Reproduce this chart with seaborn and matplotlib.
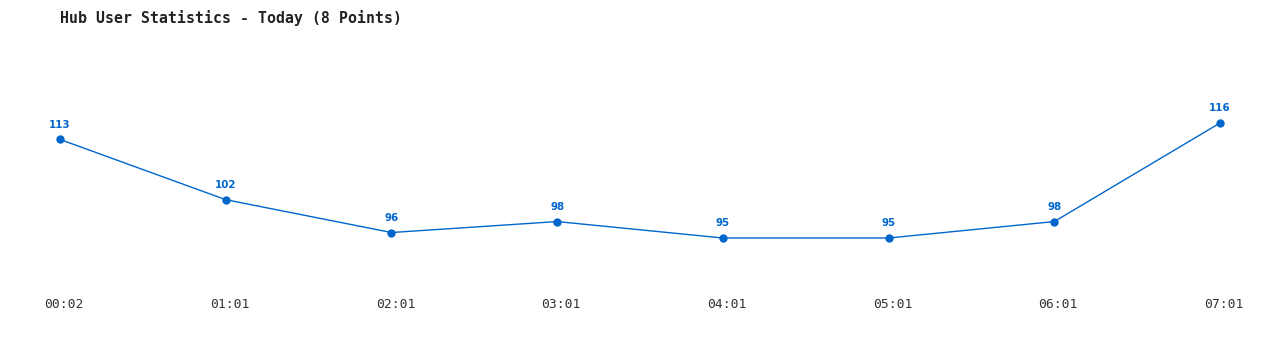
import matplotlib
matplotlib.use("Agg")
import matplotlib.pyplot as plt
import matplotlib.transforms as mtransforms
import seaborn as sns
import pandas as pd

times = ["00:02", "01:01", "02:01", "03:01", "04:01", "05:01", "06:01", "07:01"]
users = [113, 102, 96, 98, 95, 95, 98, 116]
title = "Hub User Statistics - Today (8 Points)"

sns.set_style("white")
color = "#0066cc"

df = pd.DataFrame({"pos": range(len(times)), "users": users})

fig = plt.figure(figsize=(12.8, 3.5), dpi=100)
ax = fig.add_axes([60 / 1280, (350 - 238) / 350, 1160 / 1280, 115 / 350])
sns.lineplot(data=df, x="pos", y="users", ax=ax, color=color, linewidth=1.0,
             marker="o", markersize=6, markeredgewidth=0, clip_on=False)
ax.set_xlim(0, len(times) - 1)
ax.set_ylim(min(users), max(users))
for i, v in enumerate(users):
    ax.annotate(str(v), (i, v), xytext=(0, 7), textcoords="offset points",
                ha="center", va="bottom", fontsize=7.4, fontweight="bold",
                color=color, family="DejaVu Sans")
ax.set_xticks(range(len(times)))
ax.set_xticklabels(times, family="DejaVu Sans Mono", fontsize=9.4, color="#333333")
ax.tick_params(axis="x", length=0, pad=43)
shift = mtransforms.ScaledTranslation(4 / 100, 0, fig.dpi_scale_trans)
for lbl in ax.get_xticklabels():
    lbl.set_transform(lbl.get_transform() + shift)
ax.set_yticks([])
ax.set_xlabel("")
ax.set_ylabel("")
for s in ax.spines.values():
    s.set_visible(False)
fig.text(60 / 1280, 1 - 18 / 350, title, ha="left", va="center",
         family="DejaVu Sans Mono", fontweight="bold", fontsize=10.7, color="#222222")
fig.savefig("out.png", dpi=100, facecolor="white")
